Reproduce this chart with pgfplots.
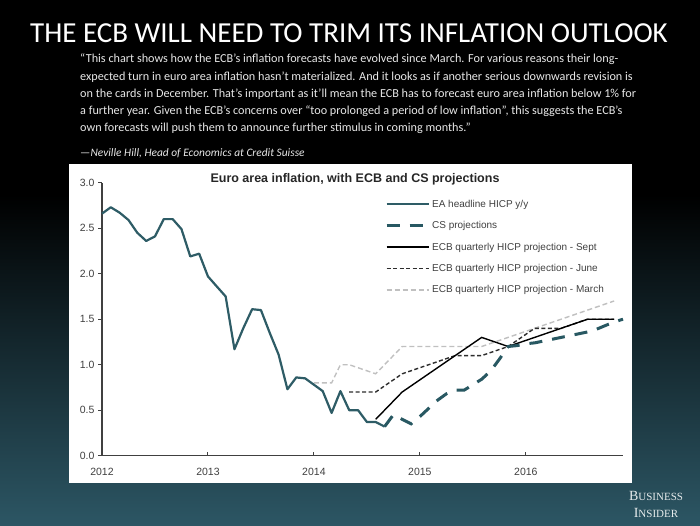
\documentclass[border=0pt]{standalone}
\usepackage{pgfplots}
\pgfplotsset{compat=1.18}
\usepackage{fontspec}
\setmainfont{Carlito}
\setsansfont{Liberation Sans}
\newfontfamily\bifont{Liberation Serif}
\definecolor{eateal}{RGB}{46,92,102}
\definecolor{csteal}{RGB}{40,88,98}
\definecolor{bgteal}{RGB}{44,86,100}
\definecolor{junegray}{RGB}{45,45,45}
\definecolor{margray}{RGB}{192,192,192}
\definecolor{axgray}{RGB}{64,64,64}
\definecolor{quotegray}{RGB}{232,232,232}

\pgfplotstableread{
x y
2012.000 2.66
2012.083 2.73
2012.167 2.67
2012.250 2.59
2012.333 2.45
2012.417 2.36
2012.500 2.41
2012.583 2.60
2012.667 2.60
2012.750 2.49
2012.833 2.19
2012.917 2.22
2013.000 1.97
2013.083 1.86
2013.167 1.75
2013.250 1.17
2013.333 1.40
2013.417 1.61
2013.500 1.60
2013.583 1.35
2013.667 1.11
2013.750 0.73
2013.833 0.86
2013.917 0.85
2014.000 0.78
2014.083 0.71
2014.167 0.47
2014.250 0.71
2014.333 0.50
2014.417 0.50
2014.500 0.37
2014.583 0.37
2014.667 0.32
}\eadata

\pgfplotstableread{
x y
2014.667 0.32
2014.750 0.45
2014.833 0.40
2014.917 0.35
2015.000 0.43
2015.083 0.52
2015.167 0.61
2015.250 0.68
2015.333 0.72
2015.417 0.72
2015.500 0.78
2015.583 0.84
2015.667 0.93
2015.750 1.06
2015.833 1.20
2015.917 1.21
2016.000 1.23
2016.083 1.24
2016.167 1.26
2016.250 1.28
2016.333 1.30
2016.417 1.32
2016.500 1.34
2016.583 1.36
2016.667 1.39
2016.750 1.43
2016.833 1.47
2016.917 1.50
}\csdata

\pgfplotstableread{
x y
2014.583 0.40
2014.833 0.70
2015.083 0.90
2015.333 1.10
2015.583 1.30
2015.833 1.20
2016.083 1.30
2016.333 1.40
2016.583 1.50
2016.833 1.50
}\septdata

\pgfplotstableread{
x y
2014.333 0.70
2014.583 0.70
2014.833 0.90
2015.083 1.00
2015.333 1.10
2015.583 1.10
2015.833 1.20
2016.083 1.40
2016.333 1.40
2016.583 1.50
2016.833 1.50
}\junedata

\pgfplotstableread{
x y
2014.000 0.80
2014.167 0.80
2014.250 1.00
2014.333 1.00
2014.583 0.90
2014.833 1.20
2015.083 1.20
2015.333 1.20
2015.583 1.20
2015.833 1.30
2016.083 1.40
2016.333 1.50
2016.583 1.60
2016.833 1.70
}\mardata

\begin{document}
\begin{tikzpicture}
% background
\fill[black] (0pt,0pt) rectangle (700pt,525pt);
\shade[top color=black, bottom color=bgteal] (0pt,0pt) rectangle (700pt,330pt);
% title and quote
\node[text=white, font=\fontsize{29}{32}\selectfont, inner sep=0pt] at (349pt,492pt) {THE ECB WILL NEED TO TRIM ITS INFLATION OUTLOOK};
\node[anchor=north west, inner sep=0pt, align=left, text=quotegray, font=\fontsize{12.2}{17.2}\selectfont] at (80pt,471pt) {%
“This chart shows how the ECB’s inflation forecasts have evolved since March. For various reasons their long-\\
expected turn in euro area inflation hasn’t materialized. And it looks as if another serious downwards revision is\\
on the cards in December. That’s important as it’ll mean the ECB has to forecast euro area inflation below 1\% for\\
a further year. Given the ECB’s concerns over “too prolonged a period of low inflation”, this suggests the ECB’s\\
own forecasts will push them to announce further stimulus in coming months.”};
\node[anchor=base west, inner sep=0pt, text=quotegray, font=\fontsize{11.4}{13}\selectfont\itshape] at (80pt,368pt) {—Neville Hill, Head of Economics at Credit Suisse};
% chart panel
\fill[white] (69pt,42pt) rectangle (632pt,361pt);
\node[font=\fontsize{12.5}{14}\selectfont\sffamily\bfseries, text=black!85] at (355pt,346pt) {Euro area inflation, with ECB and CS projections};
% logo
\node[text=white!88!bgteal, inner sep=0pt] at (656pt,29pt) {\bifont\fontsize{14}{15}\selectfont B\fontsize{11}{15}\selectfont USINESS};
\node[text=white!88!bgteal, inner sep=0pt] at (656pt,12pt) {\bifont\fontsize{14}{15}\selectfont I\fontsize{11}{15}\selectfont NSIDER};

\begin{axis}[
  at={(102pt,69.3pt)}, anchor=south west,
  scale only axis, width=521pt, height=273pt,
  xmin=2012, xmax=2016.917, ymin=0, ymax=3,
  axis x line=bottom, axis y line=left,
  axis line style={axgray, line width=1.2pt, -},
  xtick={2012,2013,2014,2015,2016},
  ytick={0,0.5,1,1.5,2,2.5,3},
  tick align=outside, major tick length=4pt,
  tick style={axgray, line width=1pt},
  x tick style={yshift=4pt},
  /pgf/number format/assume math mode=true,
  tick label style={font=\fontsize{10.5}{12}\selectfont\sffamily, text=axgray},
  xticklabel style={/pgf/number format/1000 sep={}, yshift=-5pt},
  yticklabel style={/pgf/number format/.cd, fixed, fixed zerofill, precision=1},
  legend style={at={(0.543,0.945)}, anchor=north west, draw=none, fill=none,
    font=\fontsize{10}{12}\selectfont\sffamily, text=axgray, row sep=8.7pt, inner sep=0pt},
  legend cell align=left,
  reverse legend,
  legend image code/.code={\draw[#1] (0pt,0pt) -- (42pt,0pt);},
  clip=false,
]
\addplot[margray, line width=1.4pt, dash pattern=on 5pt off 3pt] table[x=x,y=y] {\mardata};
\addlegendentry{ECB quarterly HICP projection - March}
\addplot[junegray, line width=1.4pt, dash pattern=on 4pt off 2.5pt] table[x=x,y=y] {\junedata};
\addlegendentry{ECB quarterly HICP projection - June}
\addplot[black, line width=1.4pt] table[x=x,y=y] {\septdata};
\addlegendentry{ECB quarterly HICP projection - Sept}
\addplot[csteal, line width=3pt, dash pattern=on 13pt off 10pt] table[x=x,y=y] {\csdata};
\addlegendentry{CS projections}
\addplot[eateal, line width=2.2pt, line join=round] table[x=x,y=y] {\eadata};
\addlegendentry{EA headline HICP y/y}
\end{axis}
\end{tikzpicture}
\end{document}
